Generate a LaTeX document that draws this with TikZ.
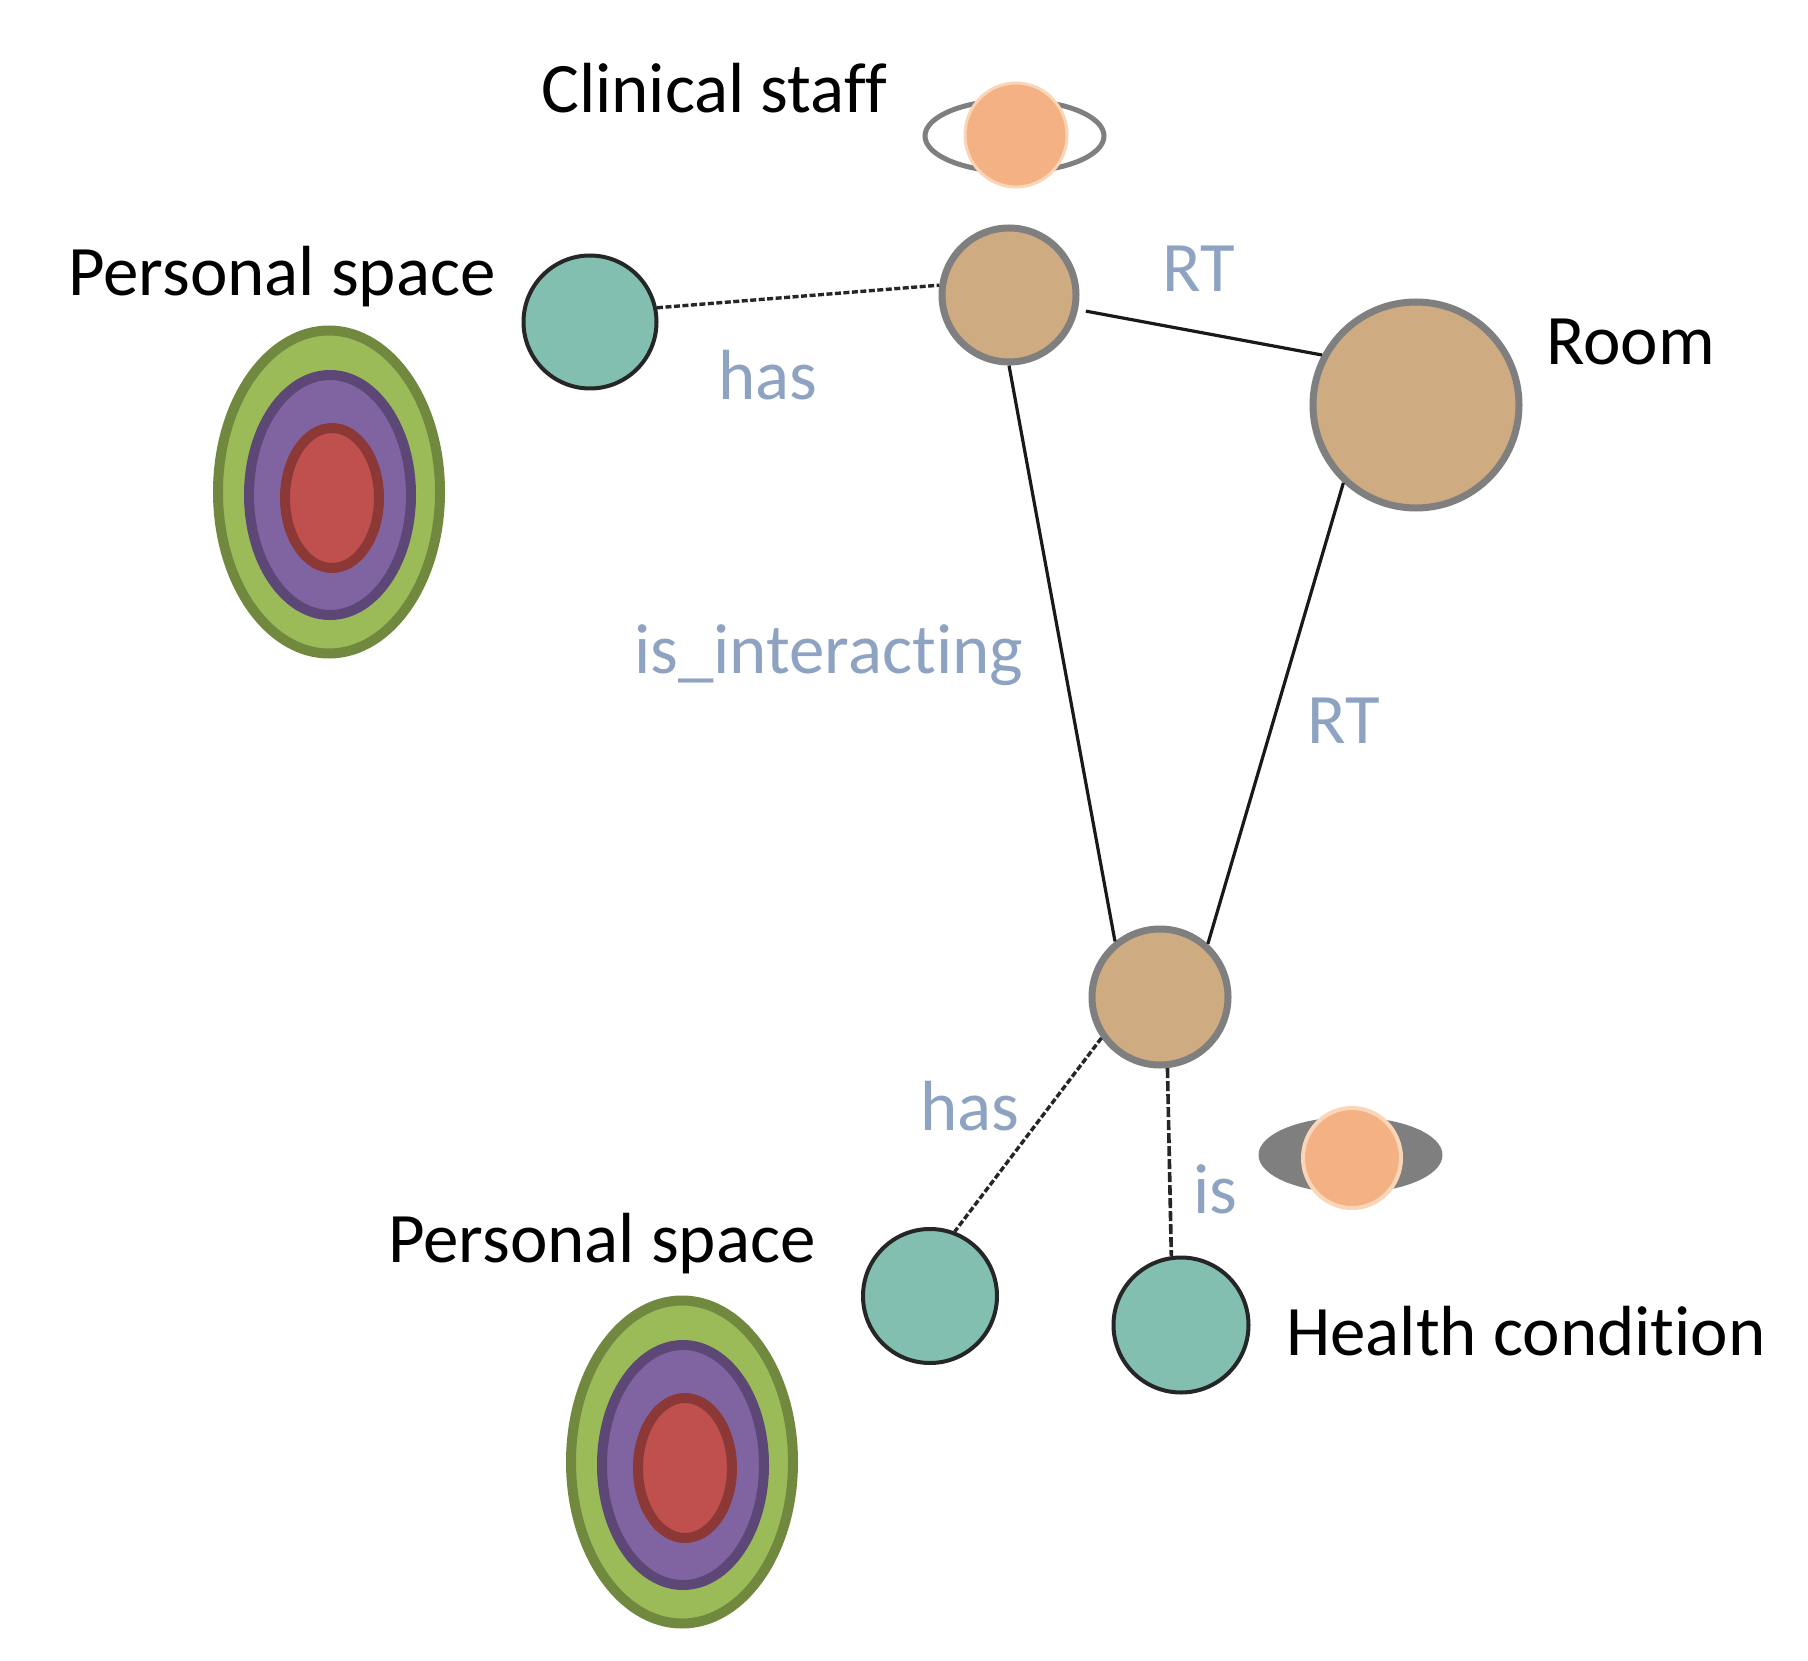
\documentclass[tikz,border=0pt]{standalone}
\usepackage{fontspec}
\setmainfont[Ligatures={NoCommon}]{Carlito}
\definecolor{tan1}{HTML}{CFAB82}
\definecolor{teal1}{HTML}{82BFB1}
\definecolor{grayl}{HTML}{7F7F7F}
\definecolor{lab}{HTML}{8DA3C1}
\definecolor{orng}{HTML}{F4B183}
\definecolor{orngl}{HTML}{FBD5B8}
\definecolor{grn}{HTML}{9BBB59}
\definecolor{grnd}{HTML}{71893F}
\definecolor{pur}{HTML}{8064A2}
\definecolor{purd}{HTML}{5C4776}
\definecolor{redf}{HTML}{C0504D}
\definecolor{redd}{HTML}{8C3836}
\usetikzlibrary{shapes.geometric}
\tikzset{
  tannode/.style={circle,draw=grayl,fill=tan1,line width=7pt,inner sep=0pt},
  tealnode/.style={circle,draw=black!85,fill=teal1,line width=4pt,inner sep=0pt},
  ringg/.style={ellipse,inner sep=0pt,line width=10pt,draw=grnd,fill=grn,minimum width=222pt,minimum height=323pt},
  ringp/.style={ellipse,inner sep=0pt,line width=10pt,draw=purd,fill=pur,minimum width=162pt,minimum height=240pt},
  ringr/.style={ellipse,inner sep=0pt,line width=10pt,draw=redd,fill=redf,minimum width=94pt,minimum height=140pt},
  blk/.style={anchor=base west,inner sep=0pt,text=black,font=\fontsize{71}{75}\selectfont},
  blu/.style={anchor=base west,inner sep=0pt,text=lab,font=\fontsize{71}{75}\selectfont},
  solidc/.style={draw=black!90,line width=3.2pt},
  dashc/.style={draw=black!85,line width=3.4pt,dash pattern=on 6pt off 2.5pt},
  dashd/.style={draw=black!85,line width=3.6pt,dash pattern=on 10pt off 3pt},
}
\begin{document}
\begin{tikzpicture}[x=1pt,y=-1pt]
\useasboundingbox[fill=white] (0,0) rectangle (1808,1661);
% nodes
\node[tannode,minimum size=134pt] (A) at (1009,295) {};
\node[tannode,minimum size=206pt] (R) at (1416,405) {};
\node[tannode,minimum size=136pt] (B) at (1160,997) {};
\node[tealnode,minimum size=133pt] (T1) at (590,322) {};
\node[tealnode,minimum size=134pt] (T2) at (930,1296) {};
\node[tealnode,minimum size=135pt] (T3) at (1181,1325) {};
% connectors
\draw[dashc] (T1.12) -- (A.172);
\draw[solidc,shorten <=8pt] (A.-12) -- (R.152);
\draw[solidc] (A.-90) -- (B.129);
\draw[solidc] (R.227) -- (B.48);
\draw[dashc] (B.215) -- (T2.69);
\draw[dashd] (B.-84) -- (T3.98);
% staff marker
\node[ellipse,inner sep=0pt,draw=grayl,line width=5pt,fill=white,minimum width=179pt,minimum height=72pt] (ring) at (1014.5,136) {};
\node[ellipse,inner sep=0pt,draw=orngl,line width=3pt,fill=orng,minimum width=102pt,minimum height=104pt] (so) at (1016,135) {};
% condition marker
\node[ellipse,inner sep=0pt,fill=grayl,minimum width=184pt,minimum height=76pt] (disc) at (1350.5,1155) {};
\node[ellipse,inner sep=0pt,draw=orngl,line width=4pt,fill=orng,minimum width=98pt,minimum height=100pt] (co) at (1352,1158) {};
% personal space 1
\node[ringg] (g1) at (329,492) {};
\node[ringp] (p1) at (330,495) {};
\node[ringr] (r1) at (332,498) {};
% personal space 2
\node[ringg] (g2) at (682,1462) {};
\node[ringp] (p2) at (683,1465) {};
\node[ringr] (r2) at (685,1468) {};
% text
\node[blk] (t1) at (541,113) {Clinical staff};
\node[blk] (t2) at (68,296) {Personal space};
\node[blk] (t3) at (1546,365) {Room};
\node[blk] (t4) at (1286,1355) {Health condition};
\node[blk] (t5) at (388,1262) {Personal space};
\node[blu] (l1) at (718,400) {has};
\node[blu] (l2) at (1162,292) {RT};
\node[blu] (l3) at (634,673) {is\_interacting};
\node[blu] (l4) at (1307,743) {RT};
\node[blu] (l5) at (920,1130) {has};
\node[blu] (l6) at (1193,1213) {is};
\end{tikzpicture}
\end{document}
